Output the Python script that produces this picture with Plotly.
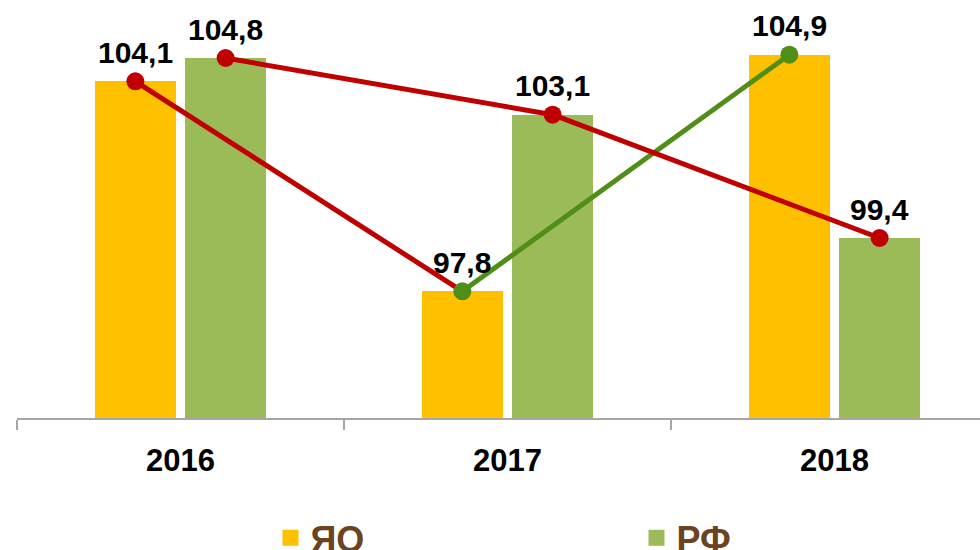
import plotly.graph_objects as go

years = ["2016", "2017", "2018"]
yo_values = [104.1, 97.8, 104.9]
rf_values = [104.8, 103.1, 99.4]
series_names = ["ЯО", "РФ"]

BAR_COLORS = ["#FFC000", "#9BBB59"]
UP_COLOR = "#4F8F17"
DOWN_COLOR = "#C00000"
FONT = "Liberation Sans, Arial, sans-serif"

OFFSET = 0.138
BAR_W = 0.248

fig = go.Figure()

series = [yo_values, rf_values]
offsets = [-OFFSET, OFFSET]

# bars
for vals, off, col, name in zip(series, offsets, BAR_COLORS, series_names):
    xs = [i + off for i in range(len(years))]
    fig.add_trace(go.Bar(x=xs, y=vals, width=BAR_W, marker=dict(color=col, line=dict(width=0)),
                         name=name, showlegend=False, hoverinfo="skip"))

# lines coloured by direction
for vals, off in zip(series, offsets):
    xs = [i + off for i in range(len(years))]
    seg_colors = [UP_COLOR if vals[k + 1] > vals[k] else DOWN_COLOR for k in range(len(vals) - 1)]
    for k in range(len(vals) - 1):
        fig.add_trace(go.Scatter(x=xs[k:k + 2], y=vals[k:k + 2], mode="lines",
                                 line=dict(color=seg_colors[k], width=5),
                                 showlegend=False, hoverinfo="skip"))
    mcolors = seg_colors + [seg_colors[-1]]
    fig.add_trace(go.Scatter(x=xs, y=vals, mode="markers",
                             marker=dict(color=mcolors, size=18, line=dict(width=0)),
                             showlegend=False, hoverinfo="skip"))

# data labels
for vals, off in zip(series, offsets):
    for i, v in enumerate(vals):
        fig.add_annotation(x=i + off, y=v, text=f"{v:.1f}".replace(".", ","),
                           showarrow=False, yshift=29, yanchor="middle",
                           font=dict(family=FONT, size=30, color="#000000", weight="bold"))

# legend entries
for name, col in zip(series_names, BAR_COLORS):
    fig.add_trace(go.Scatter(x=[None], y=[None], mode="markers", name=name,
                             marker=dict(symbol="square", size=16, color=col)))

fig.update_layout(
    width=980, height=550,
    margin=dict(l=17, r=0, t=18, b=132),
    paper_bgcolor="white", plot_bgcolor="white",
    showlegend=True,
    legend=dict(orientation="h", xref="container", yref="container",
                x=0.276, y=0.022, xanchor="left", yanchor="middle",
                entrywidth=321, entrywidthmode="pixels",
                font=dict(family=FONT, size=36, color="#6B4320", weight="bold"),
                bgcolor="rgba(0,0,0,0)"),
    xaxis=dict(range=[-0.5, 2.445], tickmode="array", tickvals=list(range(len(years))),
               ticktext=years, ticks="", showgrid=False, zeroline=False,
               showline=True, linecolor="#A6A6A6", linewidth=2,
               ticklabelstandoff=14,
               tickfont=dict(family=FONT, size=31, color="#000000", weight="bold"),
               minor=dict(tickmode="array", tickvals=[-0.5, 0.5, 1.5, 2.5], ticks="outside",
                          ticklen=10, tickwidth=2, tickcolor="#A6A6A6", showgrid=False)),
    yaxis=dict(range=[94, 106], visible=False),
    bargap=0,
)

fig.write_html("out.html", config={"displayModeBar": False},
               post_script="document.body.style.margin='0';document.body.style.padding='0';")
